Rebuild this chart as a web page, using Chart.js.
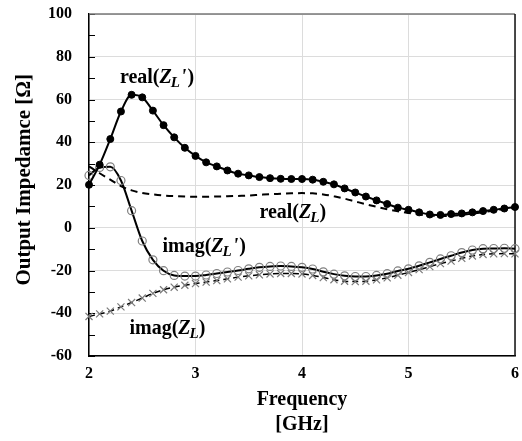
<!DOCTYPE html>
<html><head><meta charset="utf-8">
<script src="https://cdn.jsdelivr.net/npm/chart.js@4/dist/chart.umd.min.js"></script>
<style>html,body{margin:0;padding:0;background:#fff}</style>
</head><body>
<canvas id="c" width="522" height="441"></canvas>
<script>
// ---- data ----
const freqs = [2.0,2.1,2.2,2.3,2.4,2.5,2.6,2.7,2.8,2.9,3.0,3.1,3.2,3.3,3.4,3.5,3.6,3.7,3.8,3.9,4.0,4.1,4.2,4.3,4.4,4.5,4.6,4.7,4.8,4.9,5.0,5.1,5.2,5.3,5.4,5.5,5.6,5.7,5.8,5.9,6.0];
const realZLp = [20.1,29.5,41.5,54.4,62.2,61.0,54.8,48.0,42.3,37.4,33.6,30.6,28.7,26.8,25.3,24.5,23.7,23.2,22.9,22.8,22.8,22.5,21.5,20.3,18.4,16.5,14.6,12.8,11.1,9.4,8.4,7.2,6.2,6.0,6.4,6.7,7.2,7.8,8.4,9.0,9.7];
const imagZLp = [24.5,28.2,28.5,22.1,8.0,-6.2,-15.0,-20.1,-22.3,-22.6,-22.6,-22.1,-21.4,-20.7,-20.0,-19.2,-18.5,-18.1,-17.9,-18.1,-18.5,-19.3,-20.6,-21.7,-22.5,-22.8,-22.8,-22.3,-21.5,-20.2,-19.2,-17.8,-16.2,-14.6,-13.1,-11.6,-10.4,-9.8,-9.7,-9.6,-9.8];
const realZL = [28.7,25.5,22.5,19.5,17.5,16.3,15.6,15.1,14.8,14.6,14.5,14.5,14.6,14.7,14.9,15.1,15.4,15.7,15.9,16.1,16.2,16.1,15.6,14.7,13.6,12.3,11.0,9.8,8.7,7.7,6.9,6.2,5.7,5.5,5.6,6.0,6.6,7.3,8.0,8.7,9.4];
const imagZL = [-41.5,-40.3,-39.0,-37.0,-35.0,-32.9,-30.7,-29.0,-27.8,-26.9,-26.1,-25.4,-24.7,-23.9,-23.1,-22.5,-22.0,-21.6,-21.4,-21.4,-21.6,-22.3,-23.3,-24.3,-25.0,-25.2,-25.0,-24.4,-23.4,-22.2,-20.9,-19.6,-18.2,-16.8,-15.6,-14.3,-13.2,-12.5,-12.2,-12.1,-12.2];
const xTicks = [2,3,4,5,6];
const yTicks = [-60,-40,-20,0,20,40,60,80,100];
const yMinorTicks = [-60,-50,-40,-30,-20,-10,0,10,20,30,40,50,60,70,80,90,100];
// annotation anchors in data units: [freq, value, base, primed]
const labels = [
  [2.29, 67.9, 'real', true],
  [3.60, 4.7, 'real', false],
  [2.69, -11.2, 'imag', true],
  [2.38, -49.6, 'imag', false]
];

const FONT = '"Liberation Serif", "Times New Roman", serif';
const pts = arr => freqs.map((f,i)=>({x:f, y:arr[i]}));

const framePlugin = {
  id:'frame',
  beforeDatasetsDraw(chart){
    const {ctx, chartArea:a, scales:{y}} = chart;
    ctx.save();
    ctx.strokeStyle = '#000'; ctx.lineWidth = 1;
    yMinorTicks.forEach(v=>{
      const py = Math.round(y.getPixelForValue(v)) + 0.5;
      ctx.beginPath(); ctx.moveTo(a.left, py); ctx.lineTo(a.left+6, py); ctx.stroke();
    });
    ctx.strokeStyle = '#777'; ctx.lineWidth = 1.5;
    ctx.beginPath(); ctx.moveTo(a.left, a.top); ctx.lineTo(a.right, a.top); ctx.stroke();
    ctx.strokeStyle = '#111';
    ctx.beginPath(); ctx.moveTo(a.right, a.top); ctx.lineTo(a.right, a.bottom); ctx.stroke();
    ctx.restore();
  },
  afterDatasetsDraw(chart){
    const {ctx, scales:{x,y}} = chart;
    ctx.save();
    ctx.fillStyle = '#000';
    ctx.textBaseline = 'alphabetic';
    const fs = 20;
    labels.forEach(([f,v,base,prime])=>{
      let cx = x.getPixelForValue(f);
      const cy = y.getPixelForValue(v);
      ctx.font = `bold ${fs}px ${FONT}`;
      ctx.fillText(base+'(', cx, cy); cx += ctx.measureText(base+'(').width;
      ctx.font = `italic bold ${fs}px ${FONT}`;
      ctx.fillText('Z', cx, cy); cx += ctx.measureText('Z').width;
      ctx.font = `italic bold 15px ${FONT}`;
      ctx.fillText('L', cx-1, cy+4); cx += ctx.measureText('L').width - 1;
      if (prime){
        ctx.font = `italic bold ${fs}px ${FONT}`;
        ctx.fillText("'", cx+1, cy); cx += ctx.measureText("'").width + 2;
      }
      ctx.font = `bold ${fs}px ${FONT}`;
      ctx.fillText(')', cx, cy);
    });
    ctx.restore();
  }
};

new Chart(document.getElementById('c'), {
  type:'line',
  data:{datasets:[
    {label:"real(ZL')", data:pts(realZLp), borderColor:'#000', borderWidth:2, pointRadius:3.5, pointBackgroundColor:'#000', pointBorderColor:'#000', pointBorderWidth:1, clip:false},
    {label:"imag(ZL')", data:pts(imagZLp), borderColor:'#000', borderWidth:2, pointRadius:4, pointBackgroundColor:'rgba(255,255,255,0)', pointBorderColor:'#808080', pointBorderWidth:1.2, clip:false},
    {label:"real(ZL)", data:pts(realZL), borderColor:'#000', borderWidth:2, borderDash:[7,5], pointRadius:0, clip:false},
    {label:"imag(ZL)", data:pts(imagZL), borderColor:'#000', borderWidth:1.5, borderDash:[6,4], pointStyle:'crossRot', pointRadius:5, pointBorderColor:'#7a7a7a', pointBorderWidth:1.2, clip:false}
  ]},
  options:{
    responsive:false, animation:false, devicePixelRatio:1,
    layout:{padding:{top:14,right:7,bottom:0,left:0}},
    elements:{line:{cubicInterpolationMode:'monotone', fill:false}},
    plugins:{legend:{display:false}, tooltip:{enabled:false}},
    scales:{
      x:{type:'linear', min:2, max:6,
        afterBuildTicks:s=>{s.ticks = xTicks.map(v=>({value:v}));},
        afterFit:s=>{s.height = 85; s.paddingLeft = 0; s.paddingRight = 0;},
        ticks:{color:'#000', padding:8, font:{family:FONT, size:16, weight:'bold'}},
        grid:{color:'#dcdcdc', drawTicks:false, lineWidth:1},
        border:{color:'#000', width:1.5},
        title:{display:true, text:['Frequency','[GHz]'], color:'#000', font:{family:FONT, size:20, weight:'bold', lineHeight:1.25}, padding:{top:0,bottom:4}}
      },
      y:{min:-60, max:100,
        afterBuildTicks:s=>{s.ticks = yMinorTicks.map(v=>({value:v}));},
        afterFit:s=>{s.width = 89; s.paddingTop = 0; s.paddingBottom = 0;},
        ticks:{color:'#000', padding:17, autoSkip:false, font:{family:FONT, size:16, weight:'bold'},
          callback:v=> yTicks.includes(v) ? String(v) : ''},
        grid:{color:c=> (c.tick && yTicks.includes(c.tick.value)) ? '#dcdcdc' : 'rgba(0,0,0,0)', drawTicks:false, lineWidth:1},
        border:{color:'#000', width:1.5},
        title:{display:true, text:'\u2002Output Impedamce [\u03A9]', color:'#000', font:{family:FONT, size:21, weight:'bold', lineHeight:1.2}, padding:{top:12,bottom:0}}
      }
    }
  },
  plugins:[framePlugin]
});
</script>
</body></html>
